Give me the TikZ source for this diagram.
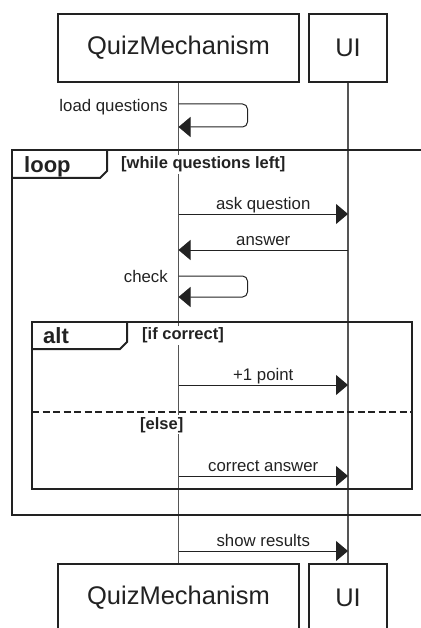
\documentclass[tikz,border=0pt]{standalone}
\usepackage{fontspec}
\setmainfont{Liberation Sans}
\usetikzlibrary{arrows.meta}
\definecolor{ink}{HTML}{222222}
\definecolor{life}{HTML}{555555}
\begin{document}
\begin{tikzpicture}[x=1pt,y=-1pt,
  participant/.style={draw=ink, line width=1.3pt, fill=white, minimum height=68pt,
    inner sep=0pt, font=\fontsize{25.5}{30}\selectfont, text=ink},
  lifeline/.style={draw=life, line width=1.1pt},
  frame/.style={draw=ink, line width=2pt},
  kw/.style={anchor=base west, inner sep=0pt, font=\fontsize{22}{26}\selectfont\bfseries, text=ink},
  guard/.style={anchor=base west, fill=white, inner xsep=1pt, inner ysep=2pt,
    font=\fontsize{16.5}{20}\selectfont\bfseries, text=ink},
  msg/.style={draw=ink, line width=1pt, -{Triangle[length=12pt,width=20pt]}},
  selfmsg/.style={msg, rounded corners=5pt},
  lbl/.style={anchor=base, inner sep=0pt, font=\fontsize{16.8}{20}\selectfont, text=ink},
]
\useasboundingbox (0,0) rectangle (420,628);

% participants
\node[participant, minimum width=241pt] (qmTop) at (178.5,48) {QuizMechanism};
\node[participant, minimum width=78pt] (uiTop) at (348,48) {UI};
\node[participant, minimum width=241pt] (qmBot) at (178.5,598) {QuizMechanism};
\node[participant, minimum width=78pt] (uiBot) at (348,598) {UI};

% lifelines
\draw[lifeline] (qmTop.south) -- (qmBot.north);
\draw[lifeline] (uiTop.south) -- (uiBot.north);

% loop fragment
\draw[frame] (12,150) rectangle (425,515);
\draw[frame] (12,178) -- (100,178) -- (107,171) -- (107,150);
\node[kw] (loopKw) at (24,173) {loop};
\node[guard] (loopG) at (120,169) {[while questions left]};

% alt fragment
\draw[frame] (32,322) rectangle (412,489);
\draw[frame] (32,349) -- (120,349) -- (127,342) -- (127,322);
\node[kw] (altKw) at (43,343) {alt};
\node[guard] (altG) at (141,339.5) {[if correct]};
\draw[frame, dash pattern=on 7pt off 3.5pt] (32,412) -- (412,412);
\node[guard] (elseG) at (139,429) {[else]};

% message anchors on the lifelines
\coordinate (lqA) at (178.5,104);  \coordinate (lqB) at (178.5,127);
\coordinate (askA) at (178.5,214); \coordinate (askB) at (348,214);
\coordinate (ansA) at (348,250);   \coordinate (ansB) at (178.5,250);
\coordinate (chkA) at (178.5,276); \coordinate (chkB) at (178.5,297);
\coordinate (ptA) at (178.5,385);  \coordinate (ptB) at (348,385);
\coordinate (caA) at (178.5,476);  \coordinate (caB) at (348,476);
\coordinate (srA) at (178.5,551);  \coordinate (srB) at (348,551);

% messages
\draw[selfmsg] (lqA) -- ++(69,0) |- (lqB);
\node[lbl, anchor=base east] (lqT) at (168,111.5) {load questions};
\draw[msg] (askA) -- node[lbl, yshift=5pt] (askT) {ask question} (askB);
\draw[msg] (ansA) -- node[lbl, yshift=5pt] (ansT) {answer} (ansB);
\draw[selfmsg] (chkA) -- ++(69,0) |- (chkB);
\node[lbl, anchor=base east] (chkT) at (168,282.5) {check};
\draw[msg] (ptA) -- node[lbl, yshift=4.5pt] (ptT) {+1 point} (ptB);
\draw[msg] (caA) -- node[lbl, yshift=5pt] (caT) {correct answer} (caB);
\draw[msg] (srA) -- node[lbl, yshift=5pt] (srT) {show results} (srB);
\end{tikzpicture}
\end{document}
